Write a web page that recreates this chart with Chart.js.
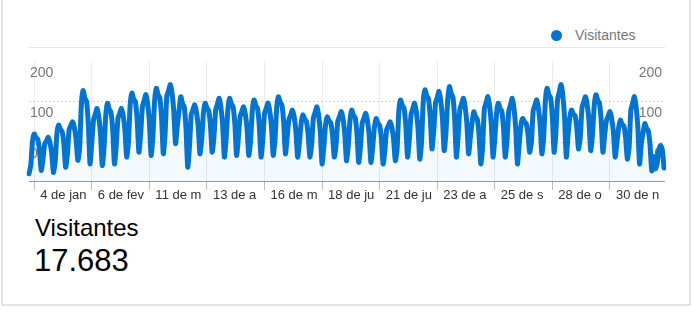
<!DOCTYPE html>
<html><head><meta charset="utf-8">
<script src="https://cdn.jsdelivr.net/npm/chart.js@4.4.1/dist/chart.umd.min.js"></script>
<style>
html,body{margin:0;padding:0;background:#fff;width:692px;height:316px;overflow:hidden;font-family:"Liberation Sans",Arial,sans-serif;}
#frame{position:absolute;left:1px;top:-10px;width:686px;height:312px;border:2px solid #e4e4e4;}
#wrap{position:absolute;left:0;top:0;width:692px;height:204px;}
#dot{position:absolute;left:551px;top:30px;width:11px;height:11px;border-radius:50%;background:#0474cf;}
#leg{position:absolute;left:575px;top:27px;font-size:14px;line-height:16px;color:#777;white-space:nowrap;}
#sep{position:absolute;left:29px;top:47px;width:636px;height:1px;background:#e6e6e6;}
#t1{position:absolute;left:35px;top:216px;font-size:24px;line-height:24px;color:#000;white-space:nowrap;}
#t2{position:absolute;left:34px;top:245px;font-size:31px;line-height:31px;color:#000;white-space:nowrap;}
</style></head>
<body>
<div id="frame"></div>
<div id="dot"></div><div id="leg">Visitantes</div>
<div id="sep"></div>
<div id="wrap"><canvas id="c" width="692" height="204"></canvas></div>
<div id="t1">Visitantes</div>
<div id="t2">17.683</div>
<script>
// daily visitors, Jan 1 .. Dec 31 (values read against the drawn axis)
const seriesName = 'Visitantes';
const visitantes = [
 -78,-58,
 2,20,11,7,-20,-70,-43,
 -5,3,12,-1,-27,-75,-49,
 21,42,32,26,-5,-62,-31,
 31,41,50,36,7,-45,-16,
 91,127,109,100,46,-54,0,
 55,69,83,62,20,-58,-16,
 66,96,81,74,29,-54,-9,
 59,71,83,65,29,-37,-1,
 92,121,106,99,55,-25,19,
 87,102,117,95,50,-33,12,
 101,133,117,109,60,-29,20,
 113,127,142,120,76,-4,40,
 77,112,95,86,34,-62,-10,
 68,80,92,74,38,-29,7,
 72,96,84,78,42,-25,11,
 79,94,108,86,43,-37,7,
 80,108,94,87,45,-33,9,
 63,75,87,69,33,-33,3,
 76,104,90,83,41,-37,5,
 70,83,96,77,38,-33,6,
 84,112,98,91,49,-29,13,
 56,67,79,62,27,-37,-2,
 46,67,57,51,20,-37,-6,
 59,73,87,66,24,-54,-12,
 42,62,52,47,17,-37,-7,
 51,63,75,57,21,-46,-10,
 53,79,66,60,21,-50,-11,
 47,59,71,53,17,-50,-14,
 36,58,47,41,8,-54,-20,
 31,40,50,36,7,-46,-17,
 76,104,90,83,41,-37,5,
 68,82,96,75,34,-42,-1,
 100,129,114,107,63,-17,27,
 96,110,125,103,59,-21,23,
 102,137,120,111,59,-37,15,
 81,94,108,87,46,-29,12,
 49,75,62,56,17,-54,-15,
 82,97,112,90,45,-37,8,
 69,96,83,76,36,-37,3,
 76,92,108,84,35,-54,-5,
 41,58,50,46,21,-25,0,
 77,91,104,84,44,-29,11,
 101,133,117,109,62,-25,22,
 106,124,142,115,61,-37,17,
 60,79,69,65,36,-17,12,
 85,99,112,92,52,-21,19,
 89,117,103,96,53,-25,18,
 53,64,75,58,25,-37,-3,
 35,54,44,40,11,-42,-13,
 79,95,112,87,37,-54,-4,
 23,46,34,28,-7,-71,-36,
 -66,-55,-20,-8,-18,-64
];
const tickDays = [3,36,69,102,135,168,201,234,267,300,333];
const tickLabels = ['4 de jan','6 de fev','11 de m','13 de a','16 de m','18 de ju','21 de ju','23 de a','25 de s','28 de o','30 de n'];
const yTicks = [0,100,200];

const categories = visitantes.map((_, i) => {
  const d = new Date(Date.UTC(2022, 0, 1 + i));
  return d.toISOString().slice(0, 10);
});

const BLUE = '#0474cf';
Chart.defaults.font.family = '"Liberation Sans", Arial, sans-serif';

const setYTicks = s => { s.ticks = yTicks.map(v => ({value: v})); };
const zeroW = s => { s.width = 0; };

new Chart(document.getElementById('c'), {
  type: 'line',
  data: {
    labels: categories,
    datasets: [{
      label: seriesName,
      data: visitantes,
      yAxisID: 'y',
      borderColor: BLUE,
      backgroundColor: 'rgba(4,116,207,0.045)',
      borderWidth: 5,
      fill: 'start',
      pointRadius: 0,
      tension: 0.2,
      borderJoinStyle: 'round',
      borderCapStyle: 'round'
    }]
  },
  options: {
    responsive: false,
    animation: false,
    layout: { padding: { left: 29, right: 28, top: 61, bottom: 0 } },
    plugins: { legend: { display: false }, tooltip: { enabled: false } },
    scales: {
      x: {
        type: 'category',
        offset: false,
        afterBuildTicks: s => { s.ticks = tickDays.map(v => ({value: v})); },
        afterFit: s => { s.height = 23; },
        ticks: {
          autoSkip: false, maxRotation: 0, minRotation: 0,
          align: 'start', labelOffset: 6, padding: -2,
          color: '#333', font: { size: 13 },
          callback: v => tickLabels[tickDays.indexOf(v)]
        },
        grid: { color: '#ececec', tickColor: '#bbb', tickLength: 9 },
        border: { color: '#999', width: 1 }
      },
      y: {
        type: 'linear', position: 'left', min: -96, max: 200,
        afterBuildTicks: setYTicks, afterFit: zeroW,
        ticks: { display: false },
        grid: { color: c => (c.tick && c.tick.value === 200) ? 'rgba(0,0,0,0)' : '#d4d4d4', drawTicks: false },
        border: { display: false, dash: [2, 2] }
      },
      yl: {
        type: 'linear', position: 'left', min: -96, max: 200, z: 1,
        afterBuildTicks: setYTicks, afterFit: zeroW,
        ticks: { mirror: true, padding: 1, labelOffset: 12, color: '#777', font: { size: 14 } },
        grid: { display: false, drawTicks: false },
        border: { display: false }
      },
      yr: {
        type: 'linear', position: 'right', min: -96, max: 200, z: 1,
        afterBuildTicks: setYTicks, afterFit: zeroW,
        ticks: { mirror: true, padding: -2, labelOffset: 12, color: '#777', font: { size: 14 } },
        grid: { display: false, drawTicks: false },
        border: { display: false }
      }
    }
  }
});
</script>
</body></html>
